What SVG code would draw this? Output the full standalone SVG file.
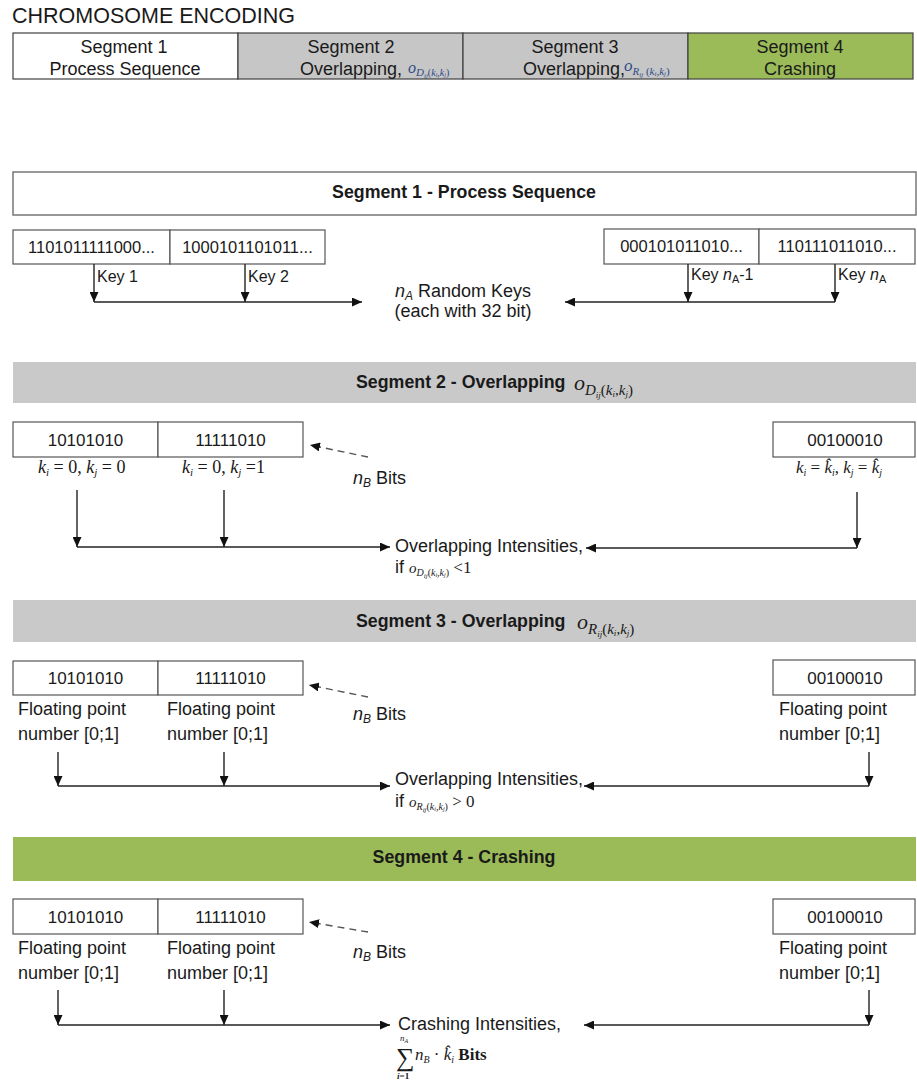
<svg xmlns="http://www.w3.org/2000/svg" width="917" height="1081" viewBox="0 0 917 1081">
<defs>
<marker id="ah" markerUnits="userSpaceOnUse" markerWidth="11" markerHeight="9" refX="10" refY="4.5" orient="auto">
<path d="M0,0 L10,4.5 L0,9 z" fill="#111"/>
</marker>
<style>
text{font-family:"Liberation Sans",Arial,sans-serif;fill:#1a1a1a}
.t18{font-size:18px}
.t16{font-size:16px}
.b{font-weight:bold;font-size:17.8px}
.m{font-family:"Liberation Serif","Times New Roman",serif;font-style:italic}
.up{font-style:normal}
.box{fill:#fff;stroke:#555;stroke-width:1.2}
.bit{font-size:17px;text-anchor:middle}
.key{font-size:16.5px;text-anchor:middle}
.ln{stroke:#222;stroke-width:1.4;fill:none}
.dash{stroke:#555;stroke-width:1.4;stroke-dasharray:7,5;fill:none}
.blue{fill:#2c4a86}
</style>
</defs>
<rect width="917" height="1081" fill="#fff"/>

<g id="title"><text x="12" y="23" style="font-size:21.5px">CHROMOSOME ENCODING</text></g>

<g id="topbar">
<rect x="13" y="33" width="225" height="46" fill="#fff" stroke="#404040" stroke-width="1.2"/>
<rect x="238" y="33" width="225" height="46" fill="#c6c6c6" stroke="#404040" stroke-width="1.2"/>
<rect x="463" y="33" width="225" height="46" fill="#c6c6c6" stroke="#404040" stroke-width="1.2"/>
<rect x="688" y="33" width="225" height="46" fill="#9bbb59" stroke="#404040" stroke-width="1.2"/>
<text class="t18" x="124" y="53" text-anchor="middle">Segment 1</text>
<text class="t18" x="125" y="75" text-anchor="middle">Process Sequence</text>
<text class="t18" x="351" y="53" text-anchor="middle">Segment 2</text>
<text class="t18" x="300" y="75">Overlapping, </text>
<text class="m blue" x="408" y="73"><tspan font-size="16">o</tspan><tspan font-size="11" dy="3">D</tspan><tspan font-size="7" dy="2">ij</tspan><tspan font-size="10" dy="-2" class="up">(</tspan><tspan font-size="10">k</tspan><tspan font-size="6" dy="1">i</tspan><tspan font-size="10" dy="-1" class="up">,</tspan><tspan font-size="10">k</tspan><tspan font-size="6" dy="1">j</tspan><tspan font-size="10" dy="-1" class="up">)</tspan></text>
<text class="t18" x="575" y="53" text-anchor="middle">Segment 3</text>
<text class="t18" x="523" y="75">Overlapping,</text>
<text class="m blue" x="624" y="71"><tspan font-size="17">o</tspan><tspan font-size="11" dy="4">R</tspan><tspan font-size="7" dy="2">ij</tspan><tspan font-size="11" dy="-2" class="up"> (</tspan><tspan font-size="11">k</tspan><tspan font-size="7" dy="1">i</tspan><tspan font-size="11" dy="-1" class="up">,</tspan><tspan font-size="11">k</tspan><tspan font-size="7" dy="1">j</tspan><tspan font-size="11" dy="-1" class="up">)</tspan></text>
<text class="t18" x="800" y="53" text-anchor="middle">Segment 4</text>
<text class="t18" x="800" y="75" text-anchor="middle">Crashing</text>
</g>

<!-- Segment 1 -->
<g id="seg1-header">
<rect x="13" y="172" width="903" height="43" fill="#fff" stroke="#777" stroke-width="1.5"/>
<text class="b" x="464" y="198" text-anchor="middle">Segment 1 - Process Sequence</text>
</g>
<g id="seg1-key1"><rect class="box" x="13" y="230" width="157" height="34"/><text class="key" x="91.5" y="253">1101011111000...</text></g>
<g id="seg1-key2"><rect class="box" x="170" y="230" width="155" height="34"/><text class="key" x="247.5" y="253">1000101101011...</text></g>
<g id="seg1-keyn1"><rect class="box" x="604" y="229" width="155" height="35"/><text class="key" x="681.5" y="252">000101011010...</text></g>
<g id="seg1-keyn"><rect class="box" x="759" y="229" width="156" height="35"/><text class="key" x="837" y="252">110111011010...</text></g>
<g id="seg1-labels">
<text class="t16" x="97" y="282">Key 1</text>
<text class="t16" x="248" y="282">Key 2</text>
<text class="t16" x="691" y="280">Key <tspan font-style="italic">n</tspan><tspan font-size="11" dy="3">A</tspan><tspan dy="-3">-1</tspan></text>
<text class="t16" x="838" y="280">Key <tspan font-style="italic">n</tspan><tspan font-size="11" dy="3">A</tspan></text>
<text class="t18" x="395" y="297"><tspan font-style="italic">n</tspan><tspan font-size="12" font-style="italic" dy="3">A</tspan><tspan dy="-3"> Random Keys</tspan></text>
<text class="t18" x="463" y="317" text-anchor="middle">(each with 32 bit)</text>
</g>

<!-- Segment 2 -->
<g id="seg2-header">
<rect x="13" y="362" width="903" height="41" fill="#c9c9c9"/>
<text class="b" x="356" y="388">Segment 2 - Overlapping</text>
<text class="m" x="574" y="390"><tspan font-size="22">o</tspan><tspan font-size="15" dy="5">D</tspan><tspan font-size="9" dy="3">ij</tspan><tspan font-size="15" dy="-3" class="up">(</tspan><tspan font-size="15">k</tspan><tspan font-size="9" dy="2">i</tspan><tspan font-size="15" dy="-2" class="up">,</tspan><tspan font-size="15">k</tspan><tspan font-size="9" dy="2">j</tspan><tspan font-size="15" dy="-2" class="up">)</tspan></text>
</g>
<g id="seg2-b1"><rect class="box" x="13" y="422" width="145" height="35"/><text class="bit" x="85.5" y="446">10101010</text></g>
<g id="seg2-b2"><rect class="box" x="158" y="422" width="145" height="35"/><text class="bit" x="230.5" y="446">11111010</text></g>
<g id="seg2-b3"><rect class="box" x="773" y="422" width="142" height="35"/><text class="bit" x="845" y="446">00100010</text></g>
<g id="seg2-labels">
<text class="m" x="38" y="473" font-size="18">k<tspan font-size="11" dy="3">i</tspan><tspan class="up" dy="-3"> = 0, </tspan>k<tspan font-size="11" dy="3">j</tspan><tspan class="up" dy="-3"> = 0</tspan></text>
<text class="m" x="182" y="473" font-size="18">k<tspan font-size="11" dy="3">i</tspan><tspan class="up" dy="-3"> = 0, </tspan>k<tspan font-size="11" dy="3">j</tspan><tspan class="up" dy="-3"> =1</tspan></text>
<text class="m" x="796" y="473" font-size="17">k<tspan font-size="10" dy="3">i</tspan><tspan class="up" dy="-3"> = </tspan>k&#x302;<tspan font-size="10" dy="3">i</tspan><tspan class="up" dy="-3">, </tspan>k<tspan font-size="10" dy="3">j</tspan><tspan class="up" dy="-3"> = </tspan>k&#x302;<tspan font-size="10" dy="3">j</tspan></text>
<text class="t18" x="353" y="484"><tspan font-style="italic">n</tspan><tspan font-size="12" font-style="italic" dy="3">B</tspan><tspan dy="-3"> Bits</tspan></text>
<text class="t18" x="395" y="552">Overlapping Intensities,</text>
<text class="t18" x="395" y="573">if <tspan class="m" font-size="15">o</tspan><tspan class="m" font-size="10" dy="3">D</tspan><tspan class="m" font-size="7" dy="2">ij</tspan><tspan class="m up" font-size="10" dy="-2">(</tspan><tspan class="m" font-size="10">k</tspan><tspan class="m" font-size="6" dy="1">i</tspan><tspan class="m up" font-size="10" dy="-1">,</tspan><tspan class="m" font-size="10">k</tspan><tspan class="m" font-size="6" dy="1">j</tspan><tspan class="m up" font-size="10" dy="-1">)</tspan><tspan class="m up" font-size="17" dy="-3"> &lt;1</tspan></text>
</g>

<!-- Segment 3 -->
<g id="seg3-header">
<rect x="13" y="600" width="903" height="42" fill="#c9c9c9"/>
<text class="b" x="356" y="627">Segment 3 - Overlapping</text>
<text class="m" x="577" y="629"><tspan font-size="22">o</tspan><tspan font-size="15" dy="5">R</tspan><tspan font-size="9" dy="3">ij</tspan><tspan font-size="15" dy="-3" class="up">(</tspan><tspan font-size="15">k</tspan><tspan font-size="9" dy="2">i</tspan><tspan font-size="15" dy="-2" class="up">,</tspan><tspan font-size="15">k</tspan><tspan font-size="9" dy="2">j</tspan><tspan font-size="15" dy="-2" class="up">)</tspan></text>
</g>
<g id="seg3-b1"><rect class="box" x="13" y="661" width="145" height="34"/><text class="bit" x="85.5" y="684">10101010</text></g>
<g id="seg3-b2"><rect class="box" x="158" y="661" width="145" height="34"/><text class="bit" x="230.5" y="684">11111010</text></g>
<g id="seg3-b3"><rect class="box" x="773" y="660" width="142" height="35"/><text class="bit" x="845" y="684">00100010</text></g>
<g id="seg3-labels">
<text class="t18" x="18" y="715">Floating point</text>
<text class="t18" x="18" y="740">number [0;1]</text>
<text class="t18" x="167" y="715">Floating point</text>
<text class="t18" x="167" y="740">number [0;1]</text>
<text class="t18" x="779" y="715">Floating point</text>
<text class="t18" x="779" y="740">number [0;1]</text>
<text class="t18" x="353" y="720"><tspan font-style="italic">n</tspan><tspan font-size="12" font-style="italic" dy="3">B</tspan><tspan dy="-3"> Bits</tspan></text>
<text class="t18" x="395" y="785">Overlapping Intensities,</text>
<text class="t18" x="395" y="807">if <tspan class="m" font-size="15">o</tspan><tspan class="m" font-size="10" dy="3">R</tspan><tspan class="m" font-size="7" dy="2">ij</tspan><tspan class="m up" font-size="10" dy="-2">(</tspan><tspan class="m" font-size="10">k</tspan><tspan class="m" font-size="6" dy="1">i</tspan><tspan class="m up" font-size="10" dy="-1">,</tspan><tspan class="m" font-size="10">k</tspan><tspan class="m" font-size="6" dy="1">j</tspan><tspan class="m up" font-size="10" dy="-1">)</tspan><tspan class="m up" font-size="17" dy="-3"> &gt; 0</tspan></text>
</g>

<!-- Segment 4 -->
<g id="seg4-header">
<rect x="13" y="837" width="903" height="44" fill="#9bbb59"/>
<text class="b" x="464" y="863" text-anchor="middle">Segment 4 - Crashing</text>
</g>
<g id="seg4-b1"><rect class="box" x="13" y="899" width="145" height="35"/><text class="bit" x="85.5" y="923">10101010</text></g>
<g id="seg4-b2"><rect class="box" x="158" y="899" width="145" height="35"/><text class="bit" x="230.5" y="923">11111010</text></g>
<g id="seg4-b3"><rect class="box" x="773" y="899" width="142" height="35"/><text class="bit" x="845" y="923">00100010</text></g>
<g id="seg4-labels">
<text class="t18" x="18" y="954">Floating point</text>
<text class="t18" x="18" y="979">number [0;1]</text>
<text class="t18" x="167" y="954">Floating point</text>
<text class="t18" x="167" y="979">number [0;1]</text>
<text class="t18" x="779" y="954">Floating point</text>
<text class="t18" x="779" y="979">number [0;1]</text>
<text class="t18" x="353" y="958"><tspan font-style="italic">n</tspan><tspan font-size="12" font-style="italic" dy="3">B</tspan><tspan dy="-3"> Bits</tspan></text>
<text class="t18" x="398" y="1030">Crashing Intensities,</text>
<text class="m" x="400" y="1041" font-size="9">n<tspan font-size="6" dy="2">A</tspan></text>
<text class="m up" x="396" y="1066" font-size="26">&#x2211;</text>
<text class="m" x="397" y="1079" font-size="9" font-weight="bold">i<tspan class="up">=1</tspan></text>
<text class="m" x="415" y="1060" font-size="17">n<tspan font-size="10" dy="3">B</tspan><tspan class="up" dy="-3"> · </tspan>k&#x302;<tspan font-size="10" dy="3">i</tspan><tspan class="up" font-weight="bold" dy="-3">  Bits</tspan></text>
</g>

<g id="connectors">
<line class="ln" x1="94" y1="264" x2="94" y2="302" marker-end="url(#ah)"/>
<line class="ln" x1="245" y1="264" x2="245" y2="302" marker-end="url(#ah)"/>
<line class="ln" x1="94" y1="302" x2="362" y2="302" marker-end="url(#ah)"/>
<line class="ln" x1="688" y1="264" x2="688" y2="302" marker-end="url(#ah)"/>
<line class="ln" x1="835" y1="264" x2="835" y2="302" marker-end="url(#ah)"/>
<line class="ln" x1="835" y1="302" x2="565" y2="302" marker-end="url(#ah)"/>

<line class="dash" x1="368" y1="457" x2="310" y2="445" marker-end="url(#ah)"/>
<line class="ln" x1="77" y1="490" x2="77" y2="547" marker-end="url(#ah)"/>
<line class="ln" x1="224" y1="490" x2="224" y2="547" marker-end="url(#ah)"/>
<line class="ln" x1="77" y1="547" x2="390" y2="547" marker-end="url(#ah)"/>
<line class="ln" x1="857" y1="492" x2="857" y2="548" marker-end="url(#ah)"/>
<line class="ln" x1="857" y1="548" x2="586" y2="548" marker-end="url(#ah)"/>

<line class="dash" x1="368" y1="697" x2="309" y2="685" marker-end="url(#ah)"/>
<line class="ln" x1="58" y1="752" x2="58" y2="786" marker-end="url(#ah)"/>
<line class="ln" x1="224" y1="752" x2="224" y2="786" marker-end="url(#ah)"/>
<line class="ln" x1="58" y1="786" x2="390" y2="786" marker-end="url(#ah)"/>
<line class="ln" x1="869" y1="752" x2="869" y2="786" marker-end="url(#ah)"/>
<line class="ln" x1="869" y1="786" x2="584" y2="786" marker-end="url(#ah)"/>

<line class="dash" x1="368" y1="932" x2="309" y2="922" marker-end="url(#ah)"/>
<line class="ln" x1="58" y1="990" x2="58" y2="1025" marker-end="url(#ah)"/>
<line class="ln" x1="224" y1="990" x2="224" y2="1025" marker-end="url(#ah)"/>
<line class="ln" x1="58" y1="1025" x2="390" y2="1025" marker-end="url(#ah)"/>
<line class="ln" x1="869" y1="990" x2="869" y2="1025" marker-end="url(#ah)"/>
<line class="ln" x1="869" y1="1025" x2="584" y2="1025" marker-end="url(#ah)"/>
</g>
</svg>
